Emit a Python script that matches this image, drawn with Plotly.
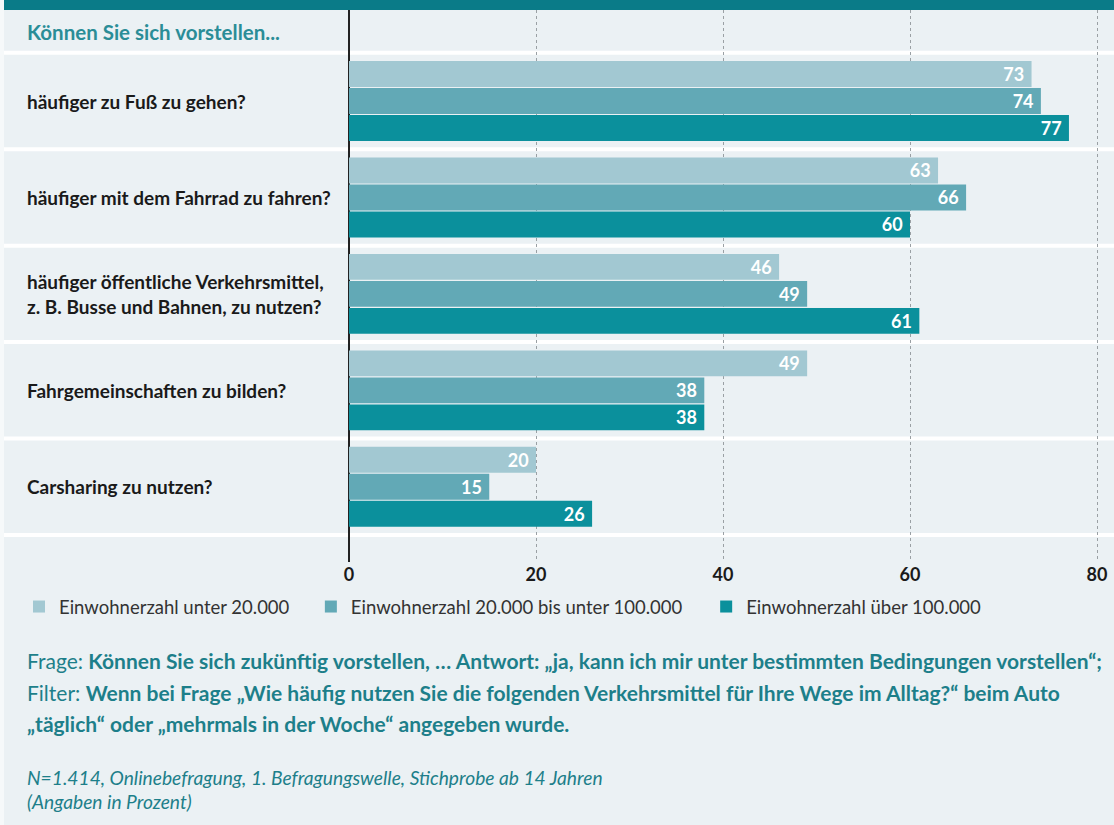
import plotly.graph_objects as go

categories = [
    "häufiger zu Fuß zu gehen?",
    "häufiger mit dem Fahrrad zu fahren?",
    "häufiger öffentliche Verkehrsmittel,<br>z. B. Busse und Bahnen, zu nutzen?",
    "Fahrgemeinschaften zu bilden?",
    "Carsharing zu nutzen?",
]
series_names = [
    "Einwohnerzahl unter 20.000",
    "Einwohnerzahl 20.000 bis unter 100.000",
    "Einwohnerzahl über 100.000",
]
values_small = [73, 63, 46, 49, 20]
values_mid = [74, 66, 49, 38, 15]
values_large = [77, 60, 61, 38, 26]
tick_values = [0, 20, 40, 60, 80]
header_text = "Können Sie sich vorstellen..."

colors = ["#a2c8d2", "#62a9b6", "#0b909c"]
BG = "#ebf1f4"
TEAL_TEXT = "#1d7f8a"
FONT = "Lato"

W, H = 1114, 825
L, R, T, B = 349, 0, 10, 263
PW, PH = W - L - R, H - T - B
ROW = 96.4


def px_x(px):
    return (px - L) / PW


def px_y(py):
    return (H - B - py) / PH


legend_pad = ["\u00a0" * 3 + "\u2009", "\u00a0" * 4, ""]

fig = go.Figure()
ids = list(range(len(categories)))
for name, pad, vals, col in zip(series_names, legend_pad, [values_small, values_mid, values_large], colors):
    fig.add_trace(go.Bar(
        y=ids, x=vals, name=name + pad, orientation="h",
        marker=dict(color=col, line=dict(width=0)),
        text=[f"{v} " for v in vals], textposition="inside", insidetextanchor="end",
        textangle=0, constraintext="none",
        textfont=dict(family=FONT, size=18, color="white", weight="bold"),
        hoverinfo="skip",
    ))

shapes = []
# top teal band
shapes.append(dict(type="rect", xref="paper", yref="paper", x0=px_x(4), x1=px_x(W), y0=1, y1=px_y(0),
                   fillcolor="#0a7b88", line=dict(width=0), layer="above"))
# left light strip
shapes.append(dict(type="rect", xref="paper", yref="paper", x0=px_x(0), x1=px_x(4), y0=px_y(H), y1=px_y(0),
                   fillcolor="#f6f9fa", line=dict(width=0), layer="above"))
# white separators
for i in range(len(categories) + 1):
    shapes.append(dict(type="line", xref="paper", yref="y", x0=px_x(4), x1=px_x(W), y0=i - 0.5, y1=i - 0.5,
                       line=dict(color="white", width=4), layer="below"))

annotations = []
annotations.append(dict(text=f"<b>{header_text}</b>", xref="paper", yref="y", x=px_x(25), y=-0.72,
                        xanchor="left", yanchor="middle", showarrow=False,
                        font=dict(family=FONT, size=20.5, color="#2a8d97")))
for i, c in enumerate(categories):
    annotations.append(dict(text=f"<b>{c}</b>", xref="paper", yref="y", x=px_x(25), y=i,
                            xanchor="left", yanchor="middle", showarrow=False, align="left",
                            font=dict(family=FONT, size=19, color="#1a1a1a")))

foot_lines = [
    "Frage: <b>Können Sie sich zukünftig vorstellen, … Antwort: „ja, kann ich mir unter bestimmten Bedingungen vorstellen“;</b>",
    "Filter: <b>Wenn bei Frage „Wie häufig nutzen Sie die folgenden Verkehrsmittel für Ihre Wege im Alltag?“ beim Auto</b>",
    "<b>„täglich“ oder „mehrmals in der Woche“ angegeben wurde.</b>",
]
for line, py in zip(foot_lines, [660, 692, 723]):
    annotations.append(dict(text=line, xref="paper", yref="paper", x=px_x(25), y=px_y(py),
                            xanchor="left", yanchor="middle", showarrow=False,
                            font=dict(family=FONT, size=21, color=TEAL_TEXT)))
for line, py in zip(["N=1.414, Onlinebefragung, 1. Befragungswelle, Stichprobe ab 14 Jahren",
                     "(Angaben in Prozent)"], [777, 801]):
    annotations.append(dict(text=f"<i>{line}</i>", xref="paper", yref="paper", x=px_x(25), y=px_y(py),
                            xanchor="left", yanchor="middle", showarrow=False,
                            font=dict(family=FONT, size=19.2, color=TEAL_TEXT)))

fig.update_layout(
    width=W, height=H,
    margin=dict(l=L, r=R, t=T, b=B, pad=0),
    paper_bgcolor=BG, plot_bgcolor=BG,
    barmode="group", bargap=0.16, bargroupgap=0.04,
    showlegend=True,
    legend=dict(orientation="h", x=px_x(19), y=px_y(607), xanchor="left", yanchor="middle",
                font=dict(family=FONT, size=18.5, color="#333333"), bgcolor="rgba(0,0,0,0)",
                traceorder="normal", itemclick=False),
    xaxis=dict(range=[0, PW / 9.35], tickvals=tick_values, ticktext=[str(t) for t in tick_values],
               showgrid=True, gridcolor="#9aa0a4", griddash="dot", gridwidth=1,
               zeroline=True, zerolinecolor="#222222", zerolinewidth=1.5,
               showline=False, ticks="", ticklabelstandoff=0,
               tickfont=dict(family=FONT, size=18, color="#1a1a1a", weight="bold"),
               fixedrange=True),
    yaxis=dict(range=[4.5 + 27 / ROW, -0.5 - 42.8 / ROW], showticklabels=False, showgrid=False,
               zeroline=False, showline=False, ticks="", fixedrange=True),
    shapes=shapes, annotations=annotations,
    font=dict(family=FONT),
)

fig.write_html("out.html", config={"displayModeBar": False},
               post_script="document.body.style.margin='0';")
